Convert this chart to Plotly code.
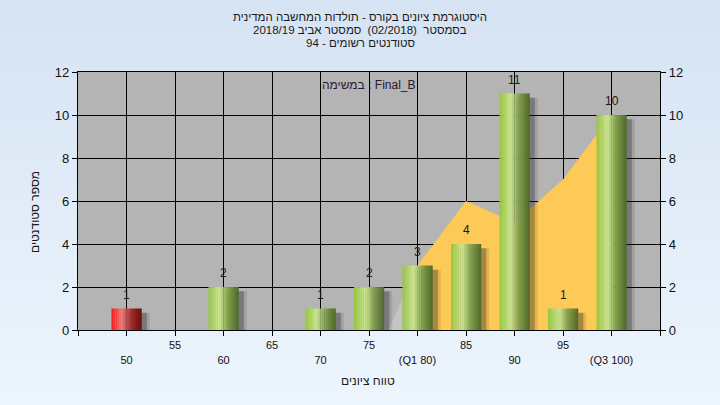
import base64
import plotly.graph_objects as go

# ---------------- data ----------------
grades = [50, 55, 60, 65, 70, 75, 80, 85, 90, 95, 100]
counts = [1, 0, 2, 0, 1, 2, 3, 4, 11, 1, 10]
tick_labels = ["50", "55", "60", "65", "70", "75", "(Q1 80)", "85", "90", "95", "(Q3 100)"]
fail_limit = 55
area_out_x = [75, 80]
area_out_y = [-2, 3]
area_q_x = [80, 85, 90, 95, 100]
area_q_y = [3, 6, 5, 7, 10]
title_lines = [
    "היסטוגרמת ציונים בקורס - תולדות המחשבה המדינית",
    "בסמסטר  (02/2018)  סמסטר אביב 2018/19",
    "סטודנטים רשומים - 94",
]
task_label = "במשימה : Final_B"
x_title = "טווח ציונים"
y_title = "מספר סטודנטים"

# ---------------- layout geometry ----------------
W, H = 720, 405
ML, MR, MT, MB = 78, 60, 72, 75
PW, PH = W - ML - MR, H - MT - MB
FONT = "Arial, Liberation Sans, sans-serif"


def px_x(px):
    return (px - ML) / PW


def px_y(py):
    return (H - MB - py) / PH


def lerp(stops, t):
    for (t0, c0), (t1, c1) in zip(stops, stops[1:]):
        if t0 <= t <= t1:
            f = (t - t0) / (t1 - t0) if t1 > t0 else 0
            return "rgb(%d,%d,%d)" % tuple(round(a + (b - a) * f) for a, b in zip(c0, c1))
    return "rgb(%d,%d,%d)" % stops[-1][1]


green_stops = [(0, (150, 198, 60)), (0.38, (204, 228, 148)), (0.65, (130, 160, 75)), (1, (78, 102, 42))]
red_stops = [(0, (245, 20, 20)), (0.33, (238, 125, 125)), (0.65, (170, 40, 40)), (1, (105, 10, 10))]

fig = go.Figure()

# background gradient image
svg = ('<svg xmlns="http://www.w3.org/2000/svg" width="10" height="100" preserveAspectRatio="none">'
       '<defs><linearGradient id="g" x1="0" y1="0" x2="0" y2="1">'
       '<stop offset="0" stop-color="#d6e3f3"/><stop offset="1" stop-color="#edf5fd"/>'
       '</linearGradient></defs><rect width="10" height="100" fill="url(#g)"/></svg>')
src = "data:image/svg+xml;base64," + base64.b64encode(svg.encode()).decode()
fig.add_layout_image(source=src, xref="paper", yref="paper", x=-ML / PW, y=1 + MT / PH,
                     sizex=W / PW, sizey=H / PH, xanchor="left", yanchor="top",
                     sizing="stretch", layer="below")
fig.add_shape(type="rect", xref="paper", yref="paper", x0=0, x1=1, y0=0, y1=1,
              fillcolor="#b4b4b4", line_width=0, layer="below")

# area traces (base subplot, drawn beneath the bars)
fig.add_trace(go.Scatter(x=area_out_x, y=area_out_y, fill="tozeroy", mode="none",
                         fillcolor="#c4c4c4", hoverinfo="skip", showlegend=False))
fig.add_trace(go.Scatter(x=area_q_x, y=area_q_y, fill="tozeroy", mode="none",
                         fillcolor="#fdca58", hoverinfo="skip", showlegend=False))

BW = 3.1
# shadows (overlay subplot)
shadow_vals = [max(c - 0.2, 0) for c in counts]
fig.add_trace(go.Bar(x=grades, y=shadow_vals, width=BW, offset=-BW / 2 + 0.85, xaxis="x2", yaxis="y2",
                     marker=dict(color="rgba(0,0,0,0.10)", line_width=0), hoverinfo="skip", showlegend=False))
fig.add_trace(go.Bar(x=grades, y=shadow_vals, width=BW, offset=-BW / 2 + 0.55, xaxis="x2", yaxis="y2",
                     marker=dict(color="rgba(30,30,30,0.30)", line_width=0), hoverinfo="skip", showlegend=False))

# cylinder bars via slices
N = 16
for i in range(N):
    t = (i + 0.5) / N
    cols = [lerp(red_stops if g < fail_limit else green_stops, t) for g in grades]
    fig.add_trace(go.Bar(x=grades, y=counts, width=BW / N + 0.02, offset=-BW / 2 + i * BW / N,
                         xaxis="x2", yaxis="y2",
                         marker=dict(color=cols, line_width=0), hoverinfo="skip", showlegend=False))

ticktext = [("" if i % 2 else "<br>") + t for i, t in enumerate(tick_labels)]
yticks = [0, 2, 4, 6, 8, 10, 12]

fig.update_layout(
    width=W, height=H, margin=dict(l=ML, r=MR, t=MT, b=MB, autoexpand=False),
    paper_bgcolor="#e4edf8", plot_bgcolor="rgba(0,0,0,0)",
    barmode="overlay", showlegend=False, hovermode=False,
    font=dict(family=FONT, size=12, color="#111"),
    xaxis=dict(range=[45, 105], tickvals=[45] + grades + [105], ticktext=[""] + ticktext + [""],
               ticks="outside", ticklen=5, tickcolor="black", showgrid=True, gridcolor="black",
               gridwidth=1.3, showline=True, linecolor="black", linewidth=1.3, mirror=True,
               zeroline=False, tickfont=dict(size=11, color="#111"), tickangle=0, automargin=False),
    yaxis=dict(range=[0, 12], tickvals=yticks, ticks="outside", ticklen=5,
               tickcolor="black", showgrid=True, gridcolor="black", gridwidth=1.3,
               showline=True, linecolor="black", linewidth=1.3, zeroline=False,
               tickfont=dict(size=13, color="#111"), automargin=False),
    xaxis2=dict(overlaying="x", matches="x", visible=False, showgrid=False, automargin=False),
    yaxis2=dict(range=[0, 12], tickvals=yticks, overlaying="y", side="right",
                ticks="outside", ticklen=5, tickcolor="black", showgrid=False, showline=True,
                linecolor="black", linewidth=1.3, zeroline=False, tickfont=dict(size=13, color="#111"),
                automargin=False),
)

ann = []
# value labels above bars
for g, c in zip(grades, counts):
    if c > 0:
        ann.append(dict(text=str(c), x=g, y=c, xref="x2", yref="y2", showarrow=False,
                        xanchor="center", yanchor="bottom", yshift=5,
                        font=dict(family=FONT, size=12, color="#1a1a1a")))
for k, line in enumerate(title_lines):
    ann.append(dict(text=line, x=px_x(360), y=px_y(17 + 13 * k), xref="paper", yref="paper",
                    showarrow=False, xanchor="center", yanchor="middle",
                    font=dict(family=FONT, size=11.5, color="#1a1a1a")))
ann.append(dict(text=task_label, x=px_x(369), y=px_y(85), xref="paper", yref="paper", showarrow=False,
                xanchor="center", yanchor="middle", font=dict(family=FONT, size=12, color="#2a1a30")))
ann.append(dict(text=x_title, x=px_x(368), y=px_y(381), xref="paper", yref="paper", showarrow=False,
                xanchor="center", yanchor="middle", font=dict(family=FONT, size=12, color="#1a1a1a")))
ann.append(dict(text=y_title, x=px_x(35), y=px_y(212), xref="paper", yref="paper", showarrow=False,
                textangle=-90, xanchor="center", yanchor="middle",
                font=dict(family=FONT, size=12, color="#1a1a1a")))
fig.update_layout(annotations=ann)

fig.write_html("out.html", config={"displayModeBar": False},
               post_script="document.body.style.margin='0';document.body.style.background='#e4edf8';")
